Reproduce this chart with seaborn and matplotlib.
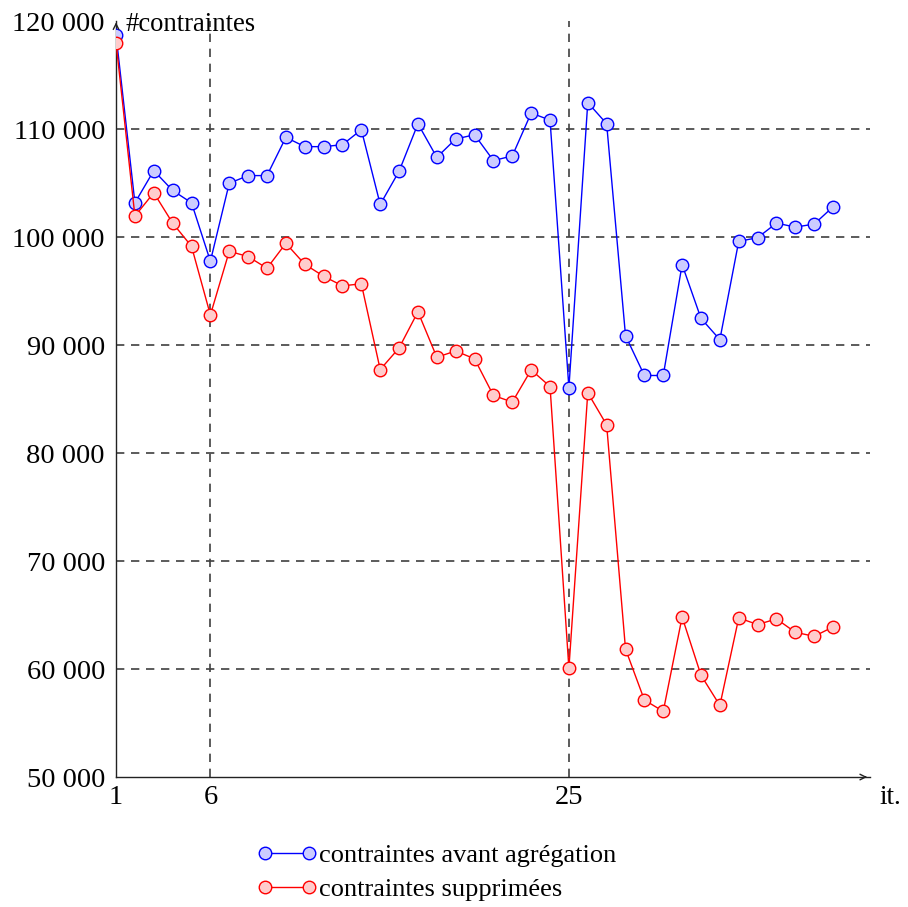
import numpy as np
import pandas as pd
import seaborn as sns
import matplotlib.pyplot as plt
from matplotlib.ticker import FuncFormatter

sns.set_theme(style='white')
plt.rcParams['font.family'] = ['Liberation Serif', 'DejaVu Serif']
plt.rcParams['text.color'] = 'black'
plt.rcParams['legend.labelcolor'] = 'black'

# Nombre de contraintes par itération
iterations = list(range(1, 40))
avant_agregation = [118700, 103170, 106150, 104310, 103170, 97760, 104980, 105690, 105690, 109230,
                    108370, 108370, 108550, 109940, 103020, 106090, 110490, 107380, 109080, 109470,
                    107080, 107510, 111480, 110830, 86040, 112450, 110490, 90870, 87180, 87180,
                    97450, 92470, 90500, 99600, 99940, 101290, 100920, 101200, 102800]
supprimees = [117990, 101940, 104100, 101290, 99140, 92780, 98680, 98190, 97110, 99420,
              97480, 96370, 95480, 95670, 87730, 89730, 93080, 88870, 89450, 88720,
              85330, 84720, 87700, 86160, 60060, 85580, 82610, 61850, 57130, 56080,
              64820, 59430, 56630, 64730, 64120, 64640, 63400, 63030, 63900]
x_ticks = [1, 6, 25]
y_ticks = [50000, 60000, 70000, 80000, 90000, 100000, 110000, 120000]

df = pd.DataFrame({'it': iterations, 'avant': avant_agregation, 'supp': supprimees})

fig = plt.figure(figsize=(9.08, 9.07), dpi=100)
ax = fig.add_axes([0.1278, 0.1433, 0.8302, 0.8335])

# grille en pointillés
for v in y_ticks[1:-1]:
    ax.axhline(v, color='#404040', ls=(0, (5, 4)), lw=1.2, zorder=0)
for v in x_ticks[1:]:
    ax.axvline(v, color='#404040', ls=(0, (5, 4)), lw=1.2, zorder=0)

sns.lineplot(data=df, x='it', y='avant', ax=ax, color='blue', lw=1, marker='o',
             markersize=9, markerfacecolor='#ccccff', markeredgecolor='blue', markeredgewidth=1,
             label='contraintes avant agrégation', legend=False, zorder=3)
sns.lineplot(data=df, x='it', y='supp', ax=ax, color='red', lw=1, marker='o',
             markersize=9, markerfacecolor='#ffcccc', markeredgecolor='red', markeredgewidth=1,
             label='contraintes supprimées', legend=False, zorder=4)

ax.set_xlim(1, 40.95)
ax.set_ylim(50000, 120000)
ax.set_xticks(x_ticks)
ax.set_yticks(y_ticks)
ax.yaxis.set_major_formatter(FuncFormatter(lambda v, p: f'{int(v):,}'.replace(',', ' ')))
ax.tick_params(length=0, labelsize=20.5, colors='black', pad=8)
ax.tick_params(axis='x', pad=6)
ax.set_xlabel('')
ax.set_ylabel('')

for s in ['top', 'right']:
    ax.spines[s].set_visible(False)
for s in ['left', 'bottom']:
    ax.spines[s].set_color('#222222')
    ax.spines[s].set_linewidth(1)

# flèches des axes
ax.annotate('', xy=(1.0, 0), xytext=(0.99, 0), xycoords='axes fraction',
            arrowprops=dict(arrowstyle='->', color='#222222', lw=1, mutation_scale=10), annotation_clip=False)
ax.annotate('', xy=(0, 1.002), xytext=(0, 0.99), xycoords='axes fraction',
            arrowprops=dict(arrowstyle='->', color='#222222', lw=1, mutation_scale=10), annotation_clip=False)
ax.text(0.012, 0.996, '#contraintes', transform=ax.transAxes, fontsize=19.2, va='center', ha='left')
ax.text(1.013, -0.027, 'it.', transform=ax.transAxes, fontsize=19.5, va='center', ha='left')

fig.legend(loc='center', bbox_to_anchor=(0.481, 0.038), frameon=False, fontsize=19,
           numpoints=2, handlelength=2.27, handletextpad=0.08, labelspacing=0.4)

fig.savefig('out.png', dpi=100)
